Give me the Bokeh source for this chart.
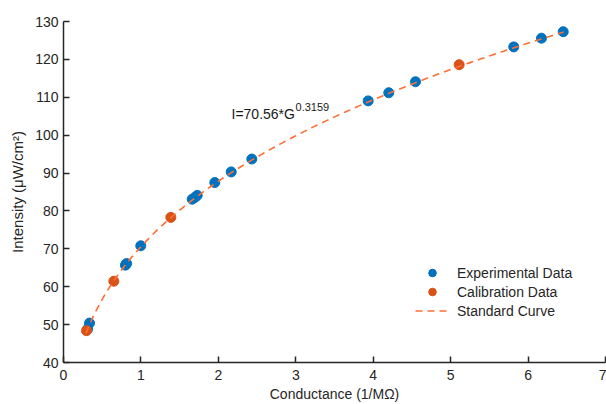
import numpy as np
from bokeh.plotting import figure
from bokeh.models import Range1d, Legend, LegendItem, Label, FixedTicker
from bokeh.embed import file_html
from bokeh.resources import INLINE

# Experimental data (blue)
exp_g = [0.31, 0.336, 0.80, 0.815, 0.998, 1.662, 1.70, 1.727, 1.954, 2.166, 2.432,
         3.935, 4.201, 4.546, 5.815, 6.173, 6.454]
exp_i = [48.8, 50.4, 65.7, 66.1, 70.8, 83.1, 83.6, 84.1, 87.5, 90.3, 93.7,
         109.05, 111.2, 114.1, 123.3, 125.6, 127.3]

# Calibration data (orange)
cal_g = [0.297, 0.65, 1.386, 5.11]
cal_i = [48.4, 61.45, 78.3, 118.6]

# Standard curve I = a * G^b
coef_a = 70.56
coef_b = 0.3159
curve_g = np.linspace(0.29, 6.46, 200)
curve_i = coef_a * curve_g ** coef_b

x_ticks = [0, 1, 2, 3, 4, 5, 6, 7]
y_ticks = [40, 50, 60, 70, 80, 90, 100, 110, 120, 130]

FONT = "Liberation Sans"
AXC = "#262626"

p = figure(width=606, height=404, output_backend="svg", toolbar_location=None,
           x_range=Range1d(0, 7), y_range=Range1d(40, 130),
           min_border_left=63, min_border_right=1, min_border_top=21, min_border_bottom=42)
p.outline_line_color = None
p.grid.visible = False
p.background_fill_color = "white"
p.border_fill_color = "white"

for ax in (p.xaxis[0], p.yaxis[0]):
    ax.axis_line_color = AXC
    ax.axis_line_width = 1.5
    ax.major_tick_line_color = AXC
    ax.major_tick_line_width = 1.5
    ax.major_tick_in = 6
    ax.major_tick_out = 0
    ax.minor_tick_line_color = None
    ax.major_label_text_font = FONT
    ax.major_label_text_font_size = "14px"
    ax.major_label_text_color = AXC
    ax.axis_label_text_font = FONT
    ax.axis_label_text_font_size = "14px"
    ax.axis_label_text_font_style = "normal"
    ax.axis_label_text_color = AXC

p.xaxis.ticker = FixedTicker(ticks=x_ticks)
p.yaxis.ticker = FixedTicker(ticks=y_ticks)
p.xaxis.axis_label = "Conductance (1/MΩ)"
p.yaxis.axis_label = "Intensity (μW/cm²)"
p.yaxis.axis_label_text_font_size = "15px"
p.xaxis.major_label_standoff = 7
p.xaxis.axis_label_standoff = 3
p.yaxis.major_label_standoff = 5
p.yaxis.axis_label_standoff = 6

r_exp = p.scatter(exp_g, exp_i, size=10, color="#0072BD", line_color="#0072BD")
r_cal = p.scatter(cal_g, cal_i, size=10, color="#D95319", line_color="#D95319")
r_cur = p.line(curve_g, curve_i, line_color="#FF6E35", line_width=1.6, line_dash="7 5")

lbl1 = Label(x=2.17, y=105.7, text="I=70.56*G", text_font=FONT, text_font_size="14px",
             text_color="#1a1a1a", text_baseline="alphabetic")
lbl2 = Label(x=2.17, y=105.7, x_offset=64, y_offset=7, text="0.3159", text_font=FONT,
             text_font_size="11px", text_color="#1a1a1a", text_baseline="alphabetic")
p.add_layout(lbl1)
p.add_layout(lbl2)

legend = Legend(items=[LegendItem(label="Experimental Data", renderers=[r_exp]),
                       LegendItem(label="Calibration Data", renderers=[r_cal]),
                       LegendItem(label="Standard Curve", renderers=[r_cur])],
                location=(352, 42))
legend.border_line_color = None
legend.background_fill_alpha = 0
legend.padding = 0
legend.margin = 0
legend.spacing = 0
legend.glyph_width = 34
legend.glyph_height = 19
legend.label_height = 19
legend.label_standoff = 8
legend.label_text_font = FONT
legend.label_text_font_size = "14px"
legend.label_text_color = AXC
p.add_layout(legend)

open("out.html", "w").write(file_html(p, INLINE))
